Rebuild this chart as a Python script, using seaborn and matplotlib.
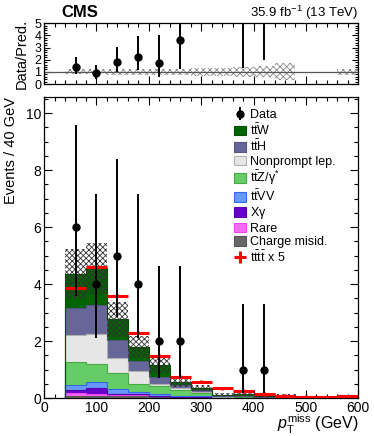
import numpy as np
import pandas as pd
import seaborn as sns
import matplotlib
matplotlib.use("Agg")
import matplotlib.pyplot as plt
from matplotlib.ticker import MultipleLocator
from matplotlib.patches import Patch

# binning: 40 GeV bins from 40 to 600 GeV
edges = np.arange(40, 601, 40)
centers = edges[:-1] + 20

# predicted yields per bin
misid     = [0.09, 0.09, 0.07, 0.06, 0.03, 0.02, 0.01, 0.005, 0.005, 0.0, 0.005, 0, 0, 0.0]
rare      = [0.08, 0.07, 0.05, 0.04, 0.03, 0.02, 0.01, 0.005, 0.005, 0.005, 0.005, 0, 0, 0.0]
xgamma    = [0.10, 0.20, 0.04, 0.03, 0.02, 0.01, 0.01, 0.005, 0.005, 0.0, 0.0, 0, 0, 0.0]
ttvv      = [0.20, 0.22, 0.16, 0.10, 0.06, 0.04, 0.03, 0.01, 0.01, 0.01, 0.005, 0, 0, 0.005]
ttz       = [0.80, 0.63, 0.57, 0.27, 0.30, 0.20, 0.12, 0.03, 0.03, 0.02, 0.01, 0, 0, 0.01]
nonprompt = [0.93, 1.03, 0.51, 0.44, 0.06, 0.06, 0.02, 0.0, 0.01, 0.0, 0.01, 0, 0, 0.0]
tth       = [0.95, 1.02, 0.65, 0.36, 0.25, 0.10, 0.07, 0.025, 0.02, 0.015, 0.015, 0, 0, 0.01]
ttw       = [1.20, 1.29, 0.72, 0.50, 0.40, 0.10, 0.08, 0.04, 0.045, 0.035, 0.03, 0, 0, 0.015]
rel_unc   = [0.2, 0.2, 0.22, 0.22, 0.22, 0.27, 0.3, 0.35, 0.38, 0.45, 0.7, 0, 0, 0.25]

tttt5 = [3.85, 4.6, 3.6, 2.3, 1.48, 0.75, 0.58, 0.34, 0.25, 0.14, 0.09, 0.04, 0.03, 0.06]

data_n  = [6, 4, 5, 4, 2, 2, 0, 0, 1, 1, 0, 0, 0, 0]
data_lo = [3.6, 2.1, 2.85, 2.1, 0.7, 0.7, 0, 0, 0.17, 0.17, 0, 0, 0, 0]
data_hi = [9.6, 7.15, 8.4, 7.15, 4.65, 4.65, 0, 0, 3.3, 3.3, 0, 0, 0, 0]

labels = [r"$\mathrm{t\bar{t}W}$", r"$\mathrm{t\bar{t}H}$", "Nonprompt lep.",
          r"$\mathrm{t\bar{t}Z/\gamma^{*}}$", r"$\mathrm{t\bar{t}VV}$", r"X$\mathrm{\gamma}$",
          "Rare", "Charge misid."]
colors = ["#006400", "#666699", "#e6e6e6", "#66cc66", "#6699ff", "#6600cc", "#ff66ff", "#666666"]
edgecols = ["#005000", "#55557f", "#b0b0b0", "#44aa44", "#3366ee", "#5500aa", "#ee44ee", "#555555"]
yields = [ttw, tth, nonprompt, ttz, ttvv, xgamma, rare, misid]

rows = []
for lab, vals in zip(labels, yields):
    for c, v in zip(centers, vals):
        rows.append([lab, c, v])
df = pd.DataFrame(rows, columns=["process", "pt", "events"])

total = np.sum(np.array(yields), axis=0)
unc = np.array(rel_unc) * total

sns.set_theme(style="ticks")
plt.rcParams["font.family"] = ["Liberation Sans", "DejaVu Sans"]
plt.rcParams["mathtext.fontset"] = "custom"
plt.rcParams["mathtext.rm"] = "Liberation Sans"
plt.rcParams["mathtext.it"] = "Liberation Sans:italic"
plt.rcParams["mathtext.bf"] = "Liberation Sans:bold"
plt.rcParams["hatch.linewidth"] = 0.6
for k in ["text.color", "axes.labelcolor", "axes.edgecolor", "xtick.color", "ytick.color"]:
    plt.rcParams[k] = "black"

fig = plt.figure(figsize=(3.74, 4.36), dpi=100)
ax = fig.add_axes([0.118, 0.087, 0.840, 0.690])
rax = fig.add_axes([0.118, 0.807, 0.840, 0.140])

# stacked backgrounds
sns.histplot(data=df, x="pt", weights="events", hue="process", hue_order=labels,
             palette=colors, multiple="stack", bins=[float(e) for e in edges], element="bars",
             alpha=1, linewidth=0, legend=False, ax=ax)
cum = np.cumsum(np.array(yields[::-1]), axis=0)
for i, ec in enumerate(edgecols[::-1]):
    ax.stairs(cum[i], edges, color=ec, lw=0.8)

# uncertainty band
ax.bar(centers, 2 * unc, bottom=total - unc, width=40, fill=False, hatch="xxxxxx",
       edgecolor="#333333", lw=0)

# tttt signal x 5
sig = ax.errorbar(centers, tttt5, xerr=20, yerr=0.06, fmt="none", ecolor="red",
                  elinewidth=2.2, capsize=0, zorder=5)

# data
m = np.array(data_n) > 0
dn = np.array(data_n, dtype=float)
yerr = [dn[m] - np.array(data_lo)[m], np.array(data_hi)[m] - dn[m]]
dat = ax.errorbar(centers[m], dn[m], yerr=yerr, fmt="o", color="black", ms=5,
                  elinewidth=1.4, capsize=0, zorder=6)

ax.set_xlim(0, 600)
ax.set_ylim(0, 10.56)
ax.xaxis.set_major_locator(MultipleLocator(100))
ax.xaxis.set_minor_locator(MultipleLocator(20))
ax.yaxis.set_major_locator(MultipleLocator(2))
ax.yaxis.set_minor_locator(MultipleLocator(0.5))
ax.set_xlabel(r"$p_{\mathrm{T}}^{\mathrm{miss}}$ (GeV)", fontsize=11.5, ha="right", va="baseline")
ax.xaxis.set_label_coords(1.0, -0.104)
ax.set_ylabel("Events / 40 GeV", fontsize=10.5, loc="top", labelpad=6)
ax.set_title("")

handles = [dat] + [Patch(facecolor=c, edgecolor=e, lw=0.8) for c, e in zip(colors, edgecols)] + [sig]
leg_labels = ["Data"] + labels + [r"$\mathrm{t\bar{t}t\bar{t}}$ x 5"]
ax.legend(handles, leg_labels, loc="upper left", bbox_to_anchor=(0.575, 0.99),
          frameon=False, fontsize=9, labelspacing=0.1, handlelength=1.0,
          handleheight=0.8, handletextpad=0.3, borderpad=0.2)

# ratio panel
ok = total > 0
rax.bar(centers[ok], 2 * np.array(rel_unc)[ok], bottom=1 - np.array(rel_unc)[ok], width=40,
        fill=False, hatch="xxxxx", edgecolor="#888888", lw=0)
rax.axhline(1, color="#555555", lw=0.9)
rm = m & ok
ratio = dn[rm] / total[rm]
r_lo = (dn[rm] - np.array(data_lo)[rm]) / total[rm]
r_hi = (np.array(data_hi)[rm] - dn[rm]) / total[rm]
rax.errorbar(centers[rm], ratio, yerr=[r_lo, r_hi], fmt="o", color="black", ms=5,
             elinewidth=1.4, capsize=0, zorder=6)
rax.set_xlim(0, 600)
rax.set_ylim(0, 5)
rax.xaxis.set_major_locator(MultipleLocator(100))
rax.xaxis.set_minor_locator(MultipleLocator(20))
rax.yaxis.set_major_locator(MultipleLocator(1))
rax.yaxis.set_minor_locator(MultipleLocator(0.2))
rax.tick_params(axis="x", labelbottom=False)
rax.set_ylabel("Data/Pred.", fontsize=10.5, labelpad=4)
rax.set_xlabel("")

for a, fs in [(ax, 10), (rax, 9)]:
    a.tick_params(which="both", direction="in", top=True, right=True, bottom=True, left=True,
                  color="black", width=0.8, labelsize=fs, pad=2)
    a.tick_params(which="major", length=6)
    a.tick_params(which="minor", length=3)
    for s in a.spines.values():
        s.set_linewidth(0.9)
        s.set_color("black")
rax.tick_params(which="major", axis="y", length=4)
rax.tick_params(which="minor", axis="y", length=2)

fig.text(0.165, 0.972, "CMS", fontsize=12, fontweight="bold", va="center")
fig.text(0.958, 0.970, r"35.9 fb$^{-1}$ (13 TeV)", fontsize=9.5, ha="right", va="center")

fig.savefig("out.png", dpi=100)
